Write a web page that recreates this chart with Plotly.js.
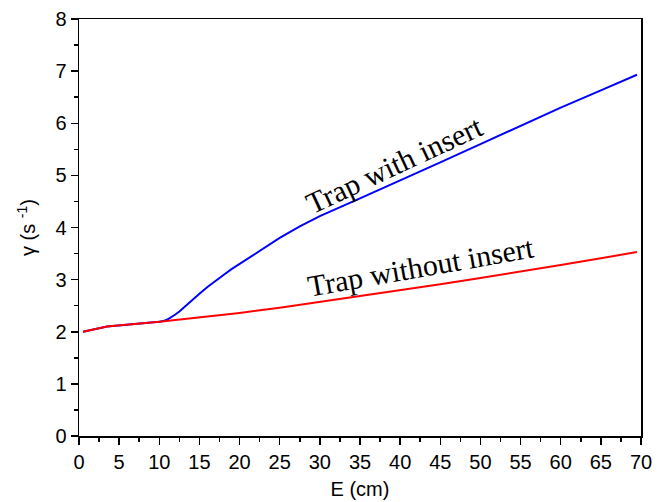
<!DOCTYPE html>
<html>
<head>
<meta charset="utf-8">
<script src="https://cdn.plot.ly/plotly-3.0.1.min.js"></script>
<style>html,body{margin:0;padding:0;background:#fff}#chart{width:665px;height:502px}</style>
</head>
<body>
<div id="chart"></div>
<script>
const withInsertE = [0.5, 3.5, 10, 10.5, 11, 11.5, 12, 12.5, 13, 13.5, 14, 15, 16, 17, 18, 19, 20, 22.5, 25, 27.5, 30, 35, 40, 45, 50, 55, 60, 65, 69.5];
const withInsertG = [2.0, 2.1, 2.19, 2.205, 2.235, 2.28, 2.33, 2.39, 2.46, 2.53, 2.6, 2.73, 2.86, 2.98, 3.09, 3.2, 3.3, 3.56, 3.8, 4.02, 4.22, 4.56, 4.9, 5.25, 5.6, 5.95, 6.3, 6.63, 6.93];
const withoutInsertE = [0.5, 3.5, 10, 15, 20, 25, 30, 35, 40, 45, 50, 55, 60, 65, 69.5];
const withoutInsertG = [2.0, 2.1, 2.19, 2.27, 2.36, 2.46, 2.57, 2.68, 2.79, 2.91, 3.03, 3.15, 3.28, 3.41, 3.53];
const labels = ["Trap with insert", "Trap without insert"];
const labelPosE = [39.3, 42.6];
const labelPosG = [5.2, 3.26];
const labelAngles = [-25, -10];

const traces = [
  {x: withInsertE, y: withInsertG, mode: 'lines', line: {color: '#0000ff', width: 2}, name: labels[0]},
  {x: withoutInsertE, y: withoutInsertG, mode: 'lines', line: {color: '#ff0000', width: 2}, name: labels[1]}
];

const axisCommon = {
  showgrid: false, zeroline: false, showline: true, linecolor: '#000', linewidth: 1.5, mirror: true,
  ticks: 'outside', ticklen: 7, tickwidth: 1.5, tickcolor: '#000',
  tickfont: {family: 'Liberation Sans, Arial', size: 20, color: '#000'}
};

const layout = {
  width: 665, height: 502,
  margin: {l: 79, r: 24, t: 19, b: 66},
  paper_bgcolor: '#fff', plot_bgcolor: '#fff',
  showlegend: false,
  xaxis: Object.assign({}, axisCommon, {
    range: [0, 70], dtick: 5, tick0: 0,
    minor: {dtick: 2.5, ticks: 'outside', ticklen: 4, tickwidth: 1.5, tickcolor: '#000'},
    title: {text: 'E (cm)', font: {family: 'Liberation Sans, Arial', size: 20, color: '#000'}, standoff: 10}
  }),
  yaxis: Object.assign({}, axisCommon, {
    range: [0, 8], dtick: 1, tick0: 0,
    minor: {dtick: 0.5, ticks: 'outside', ticklen: 4, tickwidth: 1.5, tickcolor: '#000'},
    title: {text: 'γ (s <sup>-1</sup>)', font: {family: 'Liberation Sans, Arial', size: 20, color: '#000'}, standoff: 14}
  }),
  annotations: labels.map((t, i) => ({
    x: labelPosE[i], y: labelPosG[i], xref: 'x', yref: 'y', text: t, showarrow: false,
    textangle: labelAngles[i], font: {family: 'Liberation Serif, Times New Roman', size: 30, color: '#000'}
  }))
};

Plotly.newPlot('chart', traces, layout, {displayModeBar: false, staticPlot: true});
</script>
</body>
</html>
